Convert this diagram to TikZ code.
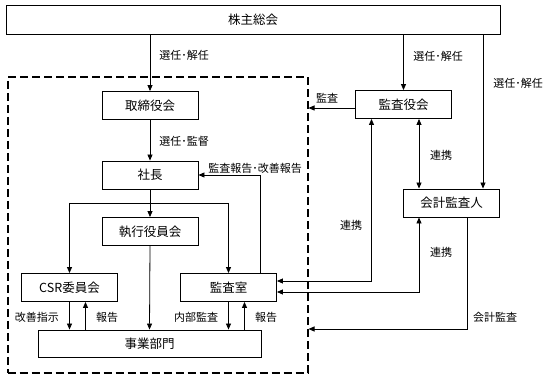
\documentclass[tikz,border=0pt]{standalone}
\usepackage{fontspec}
\newfontfamily\jp{Noto Sans CJK JP}
\usetikzlibrary{arrows.meta}
\begin{document}
\begin{tikzpicture}[x=1pt,y=-1pt,
  box/.style={draw, line width=0.9pt, minimum width=96pt, minimum height=28pt, inner sep=0pt, font=\jp\fontsize{12.5}{14}\selectfont},
  lbl/.style={inner sep=0pt, font=\jp\fontsize{11}{12}\selectfont},
  conn/.style={line width=0.8pt},
  arr/.style={conn, -{Triangle[length=6pt,width=5pt]}},
  biarr/.style={conn, {Triangle[length=6pt,width=5pt]}-{Triangle[length=6pt,width=5pt]}},
  dashbox/.style={draw, line width=2pt, dash pattern=on 8pt off 4pt, minimum width=300pt, minimum height=296pt, inner sep=0pt}
]
\useasboundingbox (0,0) rectangle (547,379);
\fill[white] (0,0) rectangle (547,379);

% boxes
\node[box, minimum width=494pt, minimum height=29pt] (ss) at (253,19.5) {株主総会};
\node[box] (tori) at (150,105.5) {取締役会};
\node[box] (kansayaku) at (403.5,104.5) {監査役会};
\node[box] (sha) at (150,175) {社長};
\node[box] (shikko) at (150,231.5) {執行役員会};
\node[box] (csr) at (69.5,287.5) {CSR委員会};
\node[box] (kansa) at (228.5,287.5) {監査室};
\node[box, minimum width=223pt, minimum height=27pt] (jigyo) at (149.5,343.5) {事業部門};
\node[box] (kaikei) at (451.5,203) {会計監査人};
\node[dashbox] (org) at (157.5,225) {};

% helper coordinates
\coordinate (r1) at (483,0);
\coordinate (br) at (150,203);
\coordinate (rp) at (260,0);
\coordinate (csrU) at (85.5,0);
\coordinate (kanU) at (244.5,0);
\coordinate (ka) at (0,108);
\coordinate (v1) at (371.5,0);
\coordinate (v2) at (419,0);
\coordinate (v3) at (467,0);
\coordinate (h1) at (0,281);
\coordinate (h2) at (0,292);
\coordinate (h3) at (0,329);

% connectors
\draw[arr] (ss.south -| tori) -- (tori.north);
\draw[arr] (ss.south -| kansayaku) -- (kansayaku.north);
\draw[arr] (ss.south -| r1) -- (kaikei.north -| r1);
\draw[arr] (tori.south) -- (sha.north);
\draw[arr] (sha.south) -- (shikko.north);
\draw[conn] (br -| csr.north) -- (br -| kansa.north);
\draw[arr] (br -| csr.north) -- (csr.north);
\draw[arr] (br -| kansa.north) -- (kansa.north);
\draw[arr] (shikko.south) -- (jigyo.north);
\draw[arr] (kansa.north -| rp) |- (sha.east);
\draw[arr] (csr.south) -- (csr.south |- jigyo.north);
\draw[arr] (csrU |- jigyo.north) -- (csrU |- csr.south);
\draw[arr] (kansa.south) -- (kansa.south |- jigyo.north);
\draw[arr] (kanU |- jigyo.north) -- (kanU |- kansa.south);
\draw[arr] (kansayaku.west |- ka) -- (org.east |- ka);
\draw[biarr] (kansa.east |- h1) -| (v1 |- kansayaku.south);
\draw[biarr] (v2 |- kansayaku.south) -- (v2 |- kaikei.north);
\draw[biarr] (kansa.east |- h2) -| (v2 |- kaikei.south);
\draw[arr] (v3 |- kaikei.south) |- (org.east |- h3);

% labels
\node[lbl] (l1) at (184,55) {選任･解任};
\node[lbl] (l2) at (438,56) {選任･解任};
\node[lbl] (l3) at (518,83) {選任･解任};
\node[lbl] (l4) at (184,141) {選任･監督};
\node[lbl] (l5) at (255,168) {監査報告･改善報告};
\node[lbl] (l6) at (327,98) {監査};
\node[lbl] (l7) at (441,155) {連携};
\node[lbl] (l8) at (351,225) {連携};
\node[lbl] (l9) at (441,252) {連携};
\node[lbl] (l10) at (495,317) {会計監査};
\node[lbl] (l11) at (37,317) {改善指示};
\node[lbl] (l12) at (107,317) {報告};
\node[lbl] (l13) at (196,317) {内部監査};
\node[lbl] (l14) at (266,317) {報告};
\end{tikzpicture}
\end{document}
